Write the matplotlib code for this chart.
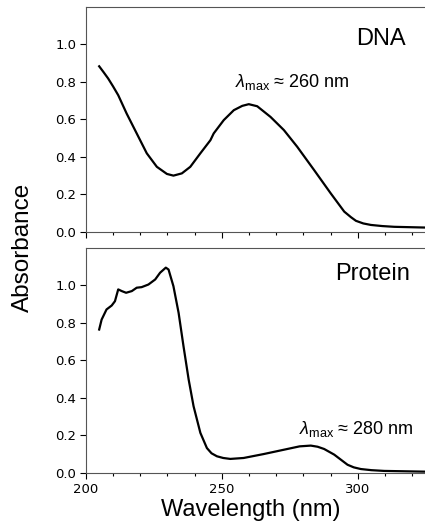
import matplotlib
matplotlib.use("Agg")
import matplotlib.pyplot as plt
from matplotlib.ticker import MultipleLocator

plt.rcParams['mathtext.fontset'] = 'custom'
plt.rcParams['mathtext.rm'] = 'Liberation Sans'
plt.rcParams['mathtext.it'] = 'Liberation Sans:italic'

# values
dna_wl = [204.9, 206.5, 208.2, 210.0, 211.9, 215.0, 218.7, 222.4, 226.1, 229.8,
          232.2, 235.3, 238.4, 242.1, 245.8, 247.0, 250.7, 254.4, 257.5, 259.9,
          263.0, 267.9, 272.8, 277.7, 283.9, 290.0, 295.0, 297.5, 299.3, 302.0,
          304.8, 309.0, 313.4, 325.0]
dna_abs = [0.883, 0.852, 0.818, 0.776, 0.729, 0.631, 0.525, 0.419, 0.347, 0.309,
           0.300, 0.312, 0.347, 0.419, 0.489, 0.525, 0.596, 0.649, 0.672, 0.681,
           0.670, 0.613, 0.543, 0.454, 0.330, 0.206, 0.108, 0.078, 0.059, 0.045,
           0.037, 0.031, 0.027, 0.023]

prot_wl = [204.9, 205.8, 207.6, 209.5, 210.7, 211.9, 213.2, 214.8, 216.9, 218.7,
           220.5, 223.0, 225.5, 227.3, 229.4, 230.4, 232.2, 234.1, 235.9, 237.8,
           239.6, 242.1, 244.5, 246.2, 248.2, 250.5, 253.1, 258.0, 265.4, 272.8,
           278.6, 282.7, 285.2, 287.6, 291.3, 296.2, 298.5, 301.1, 305.0, 309.7,
           325.0]
prot_abs = [0.765, 0.818, 0.872, 0.893, 0.916, 0.979, 0.970, 0.961, 0.970, 0.988,
            0.991, 1.005, 1.032, 1.068, 1.095, 1.085, 0.996, 0.854, 0.676, 0.498,
            0.356, 0.214, 0.133, 0.105, 0.089, 0.080, 0.075, 0.080, 0.101, 0.124,
            0.142, 0.146, 0.140, 0.128, 0.098, 0.044, 0.030, 0.021, 0.015, 0.011,
            0.007]

yticks = [0.0, 0.2, 0.4, 0.6, 0.8, 1.0]
xticks = [200, 250, 300]

fig = plt.figure(figsize=(4.25, 5.27), dpi=100)
ax1 = fig.add_axes([0.202, 0.560, 0.80, 0.427])
ax2 = fig.add_axes([0.202, 0.1025, 0.80, 0.427])

for ax in (ax1, ax2):
    ax.set_xlim(200, 325)
    ax.set_ylim(0, 1.2)
    ax.set_yticks(yticks)
    ax.set_yticklabels(["%.1f" % v for v in yticks])
    ax.set_xticks(xticks)
    ax.xaxis.set_minor_locator(MultipleLocator(10))
    ax.tick_params(axis='both', which='major', direction='out', length=4,
                   width=0.8, labelsize=9.5, pad=3)
    ax.tick_params(axis='x', which='minor', direction='out', length=2.5, width=0.8)
    ax.spines['right'].set_visible(False)
    for s in ('top', 'left', 'bottom'):
        ax.spines[s].set_color('#555555')
        ax.spines[s].set_linewidth(0.8)

ax1.tick_params(axis='x', labelbottom=False)

ax1.plot(dna_wl, dna_abs, color='black', lw=1.6)
ax2.plot(prot_wl, prot_abs, color='black', lw=1.6)

ax1.text(317.5, 1.03, "DNA", ha='right', va='center', fontsize=17,
         family='Liberation Sans')
ax2.text(319, 1.06, "Protein", ha='right', va='center', fontsize=17,
         family='Liberation Sans')
ax1.text(255, 0.80, r"$\lambda_{\rm max}$ ≈ 260 nm", ha='left', va='center',
         fontsize=13, family='Liberation Sans')
ax2.text(278.3, 0.235, r"$\lambda_{\rm max}$ ≈ 280 nm", ha='left', va='center',
         fontsize=13, family='Liberation Sans')

fig.text(0.054, 0.531, "Absorbance", rotation=90, ha='center', va='center',
         fontsize=17.5, family='Liberation Sans')
fig.text(0.59, 0.032, "Wavelength (nm)", ha='center', va='center',
         fontsize=17, family='Liberation Sans')

fig.savefig("out.png", dpi=100)
